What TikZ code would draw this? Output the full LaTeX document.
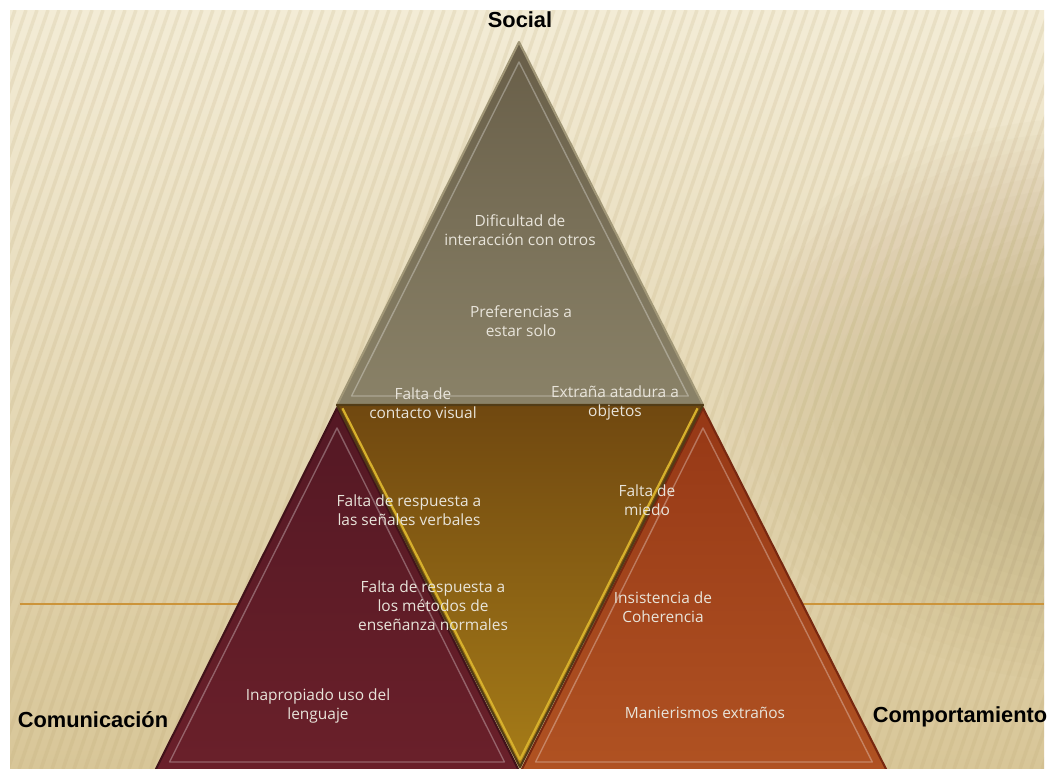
\documentclass[tikz,border=0pt]{standalone}
\usepackage{fontspec}
\setmainfont{Open Sans}
\newfontfamily\headfont{Liberation Sans}
\usetikzlibrary{calc}
\definecolor{papertop}{RGB}{243,236,214}
\definecolor{paperbot}{RGB}{216,198,152}
\definecolor{papershade}{RGB}{150,125,70}
\definecolor{stripecol}{RGB}{185,162,110}
\definecolor{rulecol}{RGB}{204,148,58}
\definecolor{socialtop}{RGB}{104,94,72}
\definecolor{socialbot}{RGB}{138,130,104}
\definecolor{socialrim}{RGB}{160,150,118}
\definecolor{commtop}{RGB}{84,24,36}
\definecolor{commbot}{RGB}{106,32,42}
\definecolor{commrim}{RGB}{66,18,26}
\definecolor{behtop}{RGB}{150,56,22}
\definecolor{behbot}{RGB}{176,82,34}
\definecolor{behrim}{RGB}{120,40,16}
\definecolor{goldtop}{RGB}{112,72,16}
\definecolor{goldbot}{RGB}{166,124,24}
\definecolor{goldrim}{RGB}{82,60,22}
\definecolor{goldline}{RGB}{214,176,44}
\definecolor{itemtext}{RGB}{232,228,218}
\begin{document}
\begin{tikzpicture}[x=0.025cm, y=-0.025cm,
        item/.style={text=itemtext, align=center, font=\fontsize{11}{13.5}\selectfont},
        head/.style={font=\headfont\bfseries\fontsize{15.5}{18}\selectfont},
        rim/.style={line width=1.5pt, line join=round},
        bevelline/.style={draw=white, draw opacity=0.3, line width=1pt, line join=round}]
    \useasboundingbox (0,0) rectangle (1048,769);
    \clip (0,0) rectangle (1048,769);
    \fill[white] (0,0) rectangle (1048,769);
    \shade[top color=papertop, bottom color=paperbot] (10,10) rectangle (1044,769);
    \begin{scope}
        \clip (10,10) rectangle (1044,769);
        \foreach \sx in {-300,-289,...,1050}
            \draw[stripecol, line width=2.5pt, opacity=0.16] (\sx,769) -- ++(260,-759);
        \foreach \r in {1,...,12}
            \fill[papershade, opacity=0.025] (1090,400) ellipse ({(9.6-0.45*\r)*1cm} and {(7.4-0.35*\r)*1cm});
    \end{scope}
    \draw[rulecol, line width=0.8pt] (20,604) -- (1044,604);

    \coordinate (s-1) at (519,42);
    \coordinate (s-2) at (337,405);
    \coordinate (s-3) at (703,405);
    \coordinate (s-c) at (519,292);
    \coordinate (c-1) at (337,408);
    \coordinate (c-2) at (155,771);
    \coordinate (c-3) at (519,771);
    \coordinate (c-c) at (337,658);
    \coordinate (b-1) at (703,408);
    \coordinate (b-2) at (521,771);
    \coordinate (b-3) at (887,771);
    \coordinate (b-c) at (703,658);
    \coordinate (g-1) at (337,405);
    \coordinate (g-2) at (703,405);
    \coordinate (g-3) at (520,767);
    \coordinate (g-c) at (520,517);
    \foreach \tri/\ctop/\cbot/\crim in {s/socialtop/socialbot/socialrim,
            c/commtop/commbot/commrim, b/behtop/behbot/behrim} {
        \shade[top color=\ctop, bottom color=\cbot] (\tri-1) -- (\tri-2) -- (\tri-3) -- cycle;
        \draw[rim, \crim] (\tri-1) -- (\tri-2) -- (\tri-3) -- cycle;
        \draw[bevelline] ($(\tri-c)!0.92!(\tri-1)$) -- ($(\tri-c)!0.92!(\tri-2)$)
            -- ($(\tri-c)!0.92!(\tri-3)$) -- cycle;
    }
    \shade[top color=goldtop, bottom color=goldbot] (g-1) -- (g-2) -- (g-3) -- cycle;
    \draw[rim, goldrim] (g-1) -- (g-2) -- (g-3) -- cycle;
    \draw[goldline, line width=1.6pt, line join=round] ($(g-c)!0.97!(g-1)$)
        -- ($(g-c)!0.97!(g-3)$) -- ($(g-c)!0.97!(g-2)$);

    \node[head] (social) at (520,20) {Social};
    \node[head] (comm) at (93,720) {Comunicación};
    \node[head] (beh) at (960,717) {Comportamiento};
    \node[item] (s-a) at (520,230) {Dificultad de\\interacción con otros};
    \node[item] (s-b) at (521,321) {Preferencias a\\estar solo};
    \node[item] (g-a) at (423,403) {Falta de\\contacto visual};
    \node[item] (g-b) at (615,403) {Extraña atadura a\\objetos};
    \node[item] (g-d) at (409,510) {Falta de respuesta a\\las señales verbales};
    \node[item] (g-e) at (433,606) {Falta de respuesta a\\los métodos de\\enseñanza normales};
    \node[item] (g-f) at (647,500) {Falta de\\miedo};
    \node[item] (c-a) at (318,706) {Inapropiado uso del\\lenguaje};
    \node[item] (b-a) at (663,607) {Insistencia de\\Coherencia};
    \node[item] (b-b) at (705,713) {Manierismos extraños};
\end{tikzpicture}
\end{document}
